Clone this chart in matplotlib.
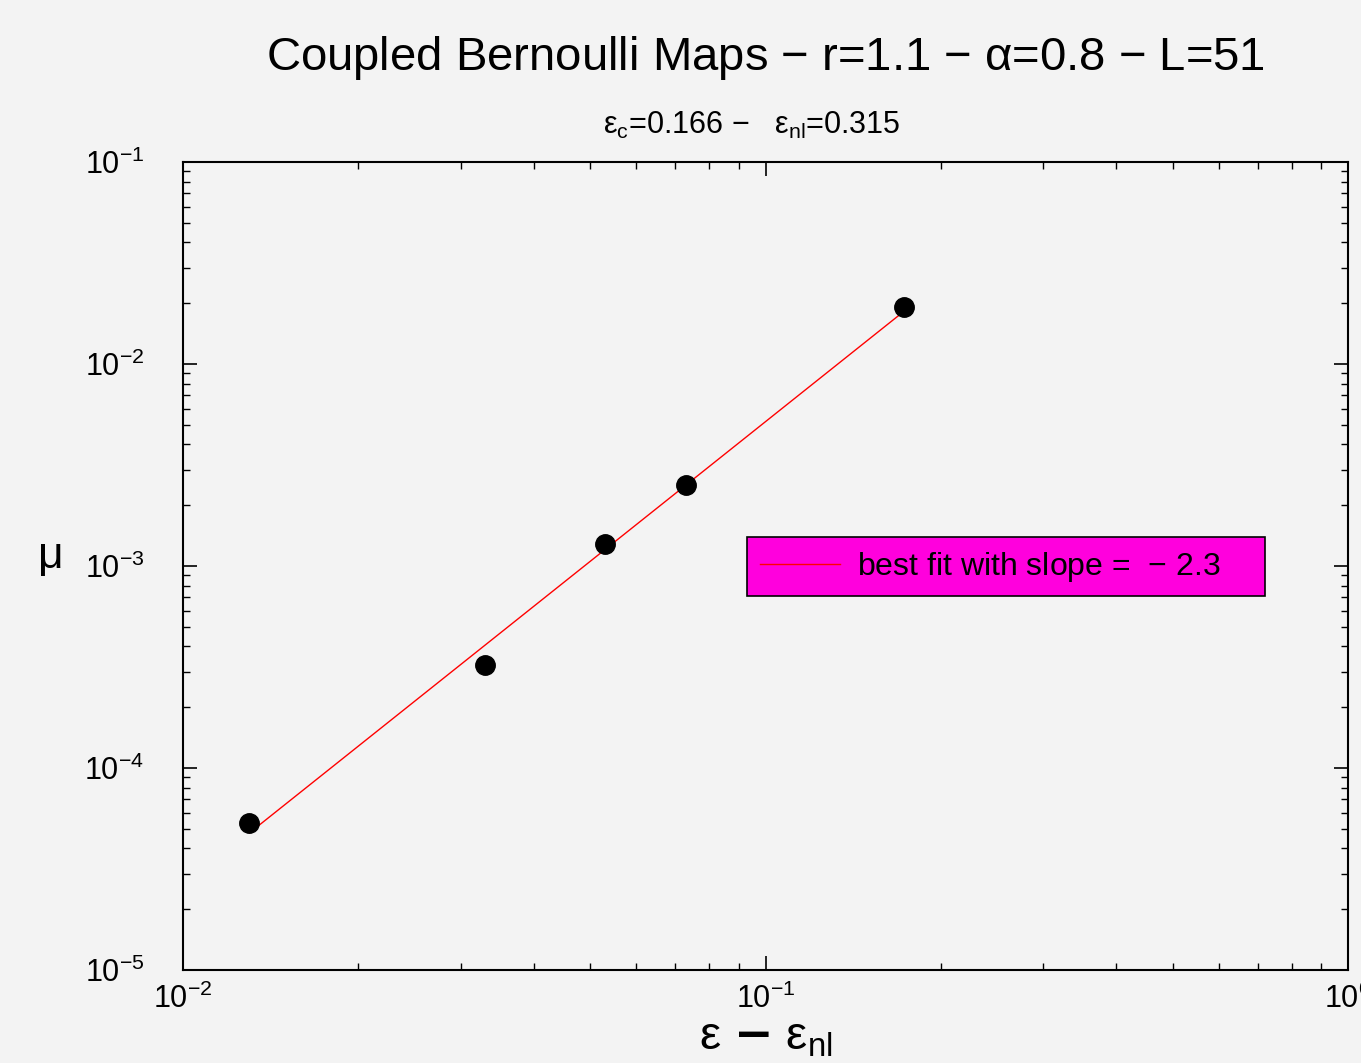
import matplotlib
matplotlib.use("Agg")
import matplotlib.pyplot as plt
import numpy as np
from matplotlib.ticker import LogLocator, NullFormatter

# data
eps_diff = [0.0130, 0.0330, 0.0530, 0.0730, 0.1729]
mu = [5.35e-5, 3.24e-4, 1.285e-3, 2.52e-3, 1.91e-2]

title = r"Coupled Bernoulli Maps $-$ r=1.1 $-$ $\alpha$=0.8 $-$ L=51"
subtitle = r"$\epsilon_c$=0.166 $-$   $\epsilon_{nl}$=0.315"
fit_label = r"best fit with slope =  $-$ 2.3"

plt.rcParams["font.family"] = ["Liberation Sans", "DejaVu Sans"]
plt.rcParams["mathtext.fontset"] = "custom"
plt.rcParams["mathtext.rm"] = "Liberation Sans"
plt.rcParams["mathtext.it"] = "Liberation Sans"
plt.rcParams["mathtext.default"] = "regular"

bg = "#f3f3f3"
fig = plt.figure(figsize=(13.61, 10.63), dpi=100, facecolor=bg)
ax = fig.add_axes([0.1345, 0.0875, 0.856, 0.7601], facecolor=bg)

# fit in log-log space
lx = np.log10(eps_diff)
ly = np.log10(mu)
p = np.polyfit(lx, ly, 1)
xf = np.array([min(eps_diff), max(eps_diff)])
ax.plot(xf, 10 ** np.polyval(p, np.log10(xf)), color="red", lw=1, label=fit_label)
ax.plot(eps_diff, mu, "o", color="black", ms=14, zorder=3)

ax.set_xscale("log")
ax.set_yscale("log")
ax.set_xlim(1e-2, 1)
ax.set_ylim(1e-5, 1e-1)

for a in (ax.xaxis, ax.yaxis):
    a.set_major_locator(LogLocator(base=10, numticks=10))
    a.set_minor_locator(LogLocator(base=10, subs=np.arange(2, 10), numticks=20))
    a.set_minor_formatter(NullFormatter())

ax.tick_params(which="both", direction="in", top=True, right=True, labelsize=22)
ax.tick_params(which="major", length=10, width=1.2)
ax.tick_params(which="minor", length=5, width=1)
ax.tick_params(axis="y", which="major", pad=28)
ax.tick_params(axis="x", which="major", pad=10)
for s in ax.spines.values():
    s.set_linewidth(1.5)

ax.set_xlabel(r"$\epsilon$ $\mathbf{-}$ $\epsilon_{nl}$", fontsize=34, labelpad=0)
ax.set_ylabel(r"$\mu$", fontsize=32, rotation=0, va="center", ha="center")
ax.yaxis.set_label_coords(-0.115, 0.51)

fig.text(0.5625, 0.945, title, fontsize=34, ha="center", va="center")
fig.text(0.5525, 0.882, subtitle, fontsize=22, ha="center", va="center")

leg = ax.legend(loc="upper left", bbox_to_anchor=(0.484, 0.436, 0.4446, 0.1),
                mode="expand", fontsize=23,
                fancybox=False, framealpha=1, facecolor="#ff00dd",
                edgecolor="black", handlelength=2.5, handletextpad=0.55,
                borderpad=0.4, borderaxespad=0)
leg.get_frame().set_linewidth(1.2)

fig.savefig("out.png", dpi=100, facecolor=bg)
